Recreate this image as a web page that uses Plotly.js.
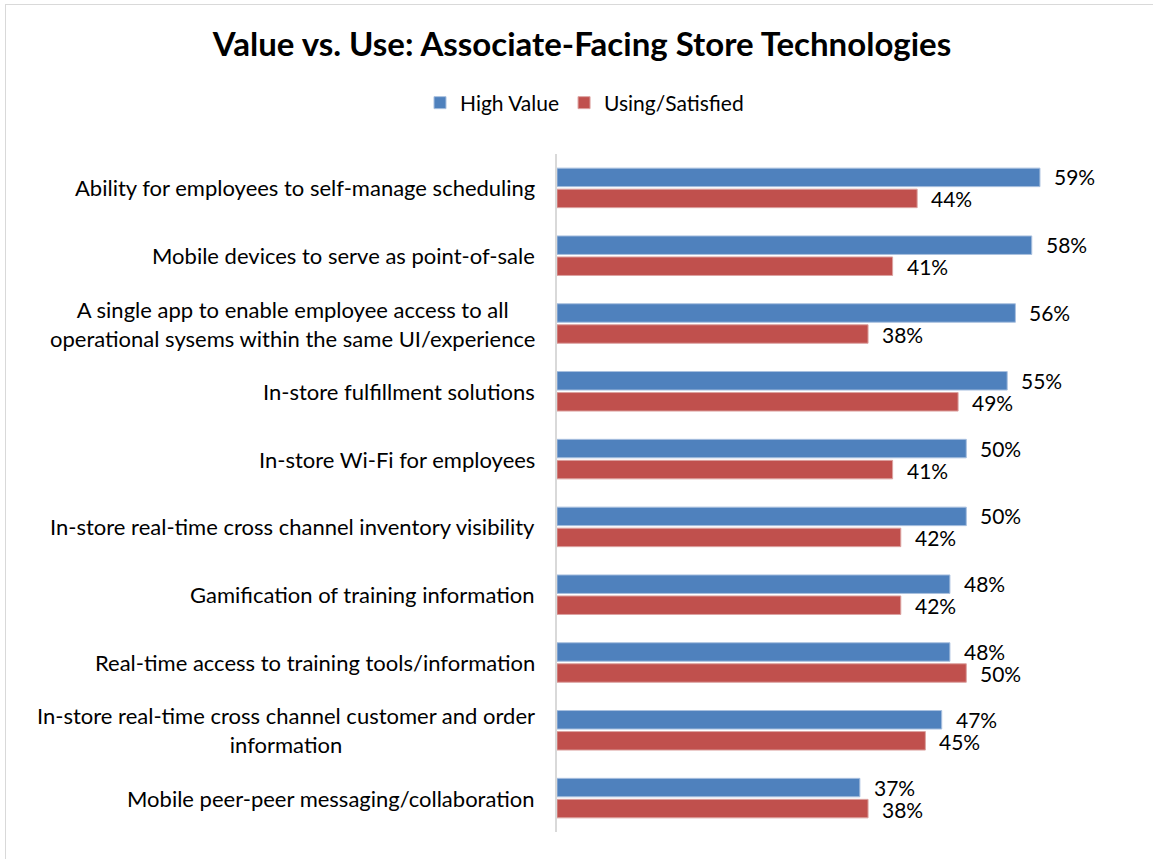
<!DOCTYPE html>
<html>
<head>
<meta charset="utf-8">
<script src="https://cdn.plot.ly/plotly-3.0.1.min.js"></script>
<style>
  html, body { margin: 0; padding: 0; background: #fff; overflow: hidden; }
  #chart { width: 1153px; height: 859px; }
  #frame { position: absolute; left: 5px; top: 4px; width: 1300px; height: 1000px;
           border: 1.5px solid #d9d9d9; pointer-events: none; }
</style>
</head>
<body>
<div id="chart"></div>
<div id="frame"></div>
<script>
const categories = [
  "Ability for employees to self-manage scheduling",
  "Mobile devices to serve as point-of-sale",
  "A single app to enable employee access to all<br>operational sysems within the same UI/experience",
  "In-store fulfillment solutions",
  "In-store Wi-Fi for employees",
  "In-store real-time cross channel inventory visibility",
  "Gamification of training information",
  "Real-time access to training tools/information",
  "In-store real-time cross channel customer and order<br>information",
  "Mobile peer-peer messaging/collaboration"
];
const highValue = [59, 58, 56, 55, 50, 50, 48, 48, 47, 37];
const usingSatisfied = [44, 41, 38, 49, 41, 42, 42, 50, 45, 38];
const seriesNames = ["High Value", "Using/Satisfied"];
const titleText = "Value vs. Use: Associate-Facing Store Technologies";

const FONT = "Lato, 'Open Sans', sans-serif";
const W = 1153, H = 859;
const L = 557, R = 23, T = 154, B = 27;
const plotW = W - L - R;

const traces = [
  { type: 'bar', orientation: 'h', name: seriesNames[0], y: categories, x: highValue,
    marker: { color: '#4F81BD', line: { color: '#a9c0df', width: 1 } }, hoverinfo: 'x+y' },
  { type: 'bar', orientation: 'h', name: seriesNames[1], y: categories, x: usingSatisfied,
    marker: { color: '#C0504D', line: { color: '#dca3a1', width: 1 } }, hoverinfo: 'x+y' }
];

const annotations = [];
categories.forEach((c, i) => {
  annotations.push({ x: 0, y: c, xref: 'x', yref: 'y', text: c, showarrow: false,
    xanchor: 'right', yanchor: 'middle', align: 'center', xshift: -20,
    font: { family: FONT, size: 22, color: '#000' } });
});
[highValue, usingSatisfied].forEach((arr, k) => {
  arr.forEach((v, i) => {
    annotations.push({ x: v, y: categories[i], xref: 'x', yref: 'y', text: v + '%',
      showarrow: false, xanchor: 'left', yanchor: 'middle', xshift: 12,
      yshift: k === 0 ? 11 : -11,
      font: { family: FONT, size: 21, color: '#000' } });
  });
});

const layout = {
  width: W, height: H,
  margin: { l: L, r: R, t: T, b: B },
  paper_bgcolor: '#fff', plot_bgcolor: '#fff',
  font: { family: FONT, color: '#000' },
  title: { text: '<b>' + titleText + '</b>', xref: 'container', yref: 'container',
    x: 582 / W, y: 1 - 44 / H, xanchor: 'center', yanchor: 'middle',
    font: { family: FONT, size: 33, color: '#000' } },
  barmode: 'group', bargap: 0.38, bargroupgap: 0.12,
  xaxis: { range: [0, 70], showgrid: false, zeroline: false, showticklabels: false,
    ticks: '', showline: false, fixedrange: true },
  yaxis: { type: 'category', autorange: 'reversed', showticklabels: false, ticks: '',
    showgrid: false, zeroline: false, showline: true, linecolor: '#d9d9d9', linewidth: 2,
    fixedrange: true },
  showlegend: true,
  legend: { orientation: 'h', x: (420 - L) / plotW, xanchor: 'left',
    y: (H - B - 103) / (H - T - B), yanchor: 'middle', traceorder: 'normal',
    font: { family: FONT, size: 21, color: '#000' }, bgcolor: 'rgba(0,0,0,0)' },
  annotations: annotations
};

Plotly.newPlot('chart', traces, layout, { displayModeBar: false, staticPlot: true });
</script>
</body>
</html>
